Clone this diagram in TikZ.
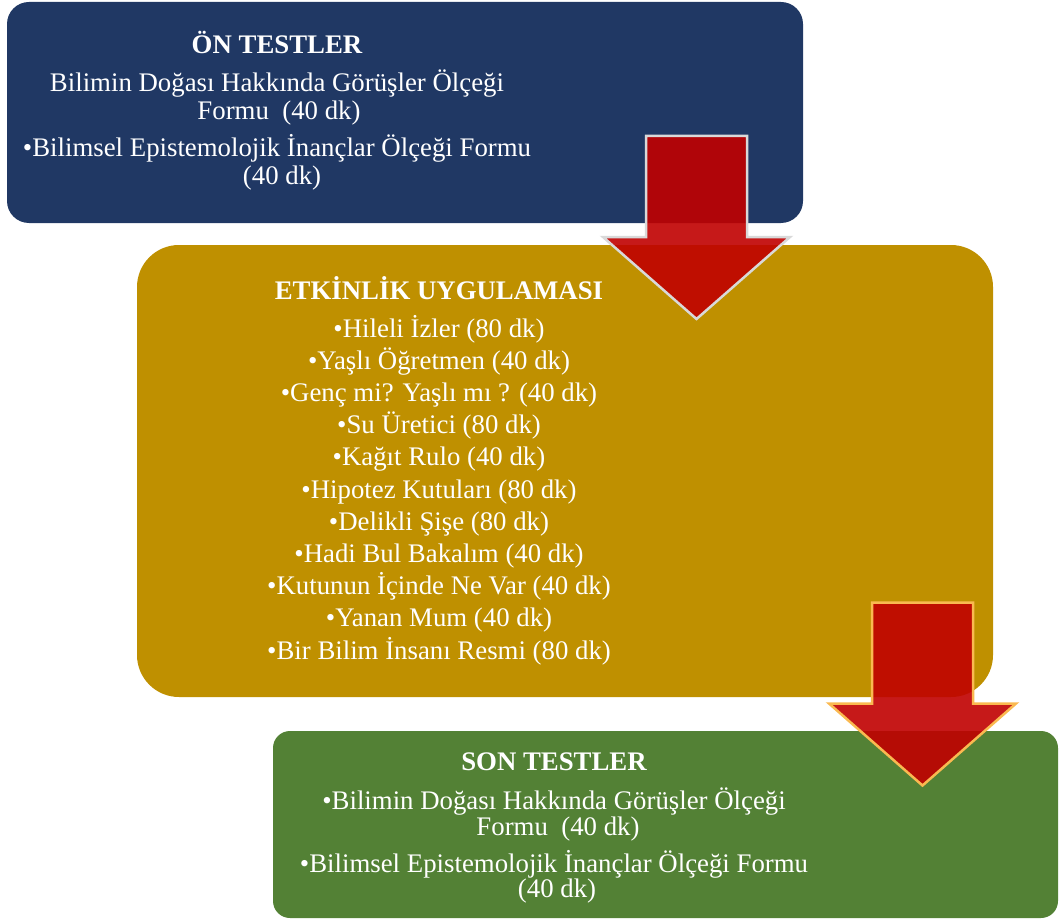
\documentclass[tikz,border=0pt]{standalone}
\usepackage{fontspec}
\setmainfont{Liberation Serif}
\usetikzlibrary{calc}

\definecolor{onblue}{RGB}{32,56,100}
\definecolor{etkgold}{RGB}{191,144,0}
\definecolor{songreen}{RGB}{83,129,53}
\definecolor{arrowred}{RGB}{192,0,0}
\definecolor{rimgrey}{RGB}{217,217,217}
\definecolor{rimorange}{RGB}{250,185,80}

\begin{document}
\begin{tikzpicture}[
  x=1pt, y=-1pt,
  panel/.style={rectangle, draw=none, inner sep=0pt},
  line/.style={anchor=base, inner sep=0pt, text=white, font=\fontsize{26.8}{30}\selectfont},
  head/.style={line, font=\fontsize{26.8}{30}\selectfont\bfseries},
  pics/downarrow/.style={code={
    \draw[fill=arrowred, fill opacity=0.9, draw=#1, line width=2.5pt, line join=miter]
      (-50.5,0) -- (50.5,0) -- (50.5,101) -- (93.5,101) -- (0,183)
      -- (-93.5,101) -- (-50.5,101) -- cycle;
  }}
]
\useasboundingbox (0,0) rectangle (1059,920);

% the three panels
\node[panel, fill=onblue, rounded corners=22pt, minimum width=796pt, minimum height=221pt] (onbox) at (405,112.5) {};
\node[panel, fill=etkgold, rounded corners=42pt, minimum width=856pt, minimum height=452pt] (etkbox) at (565,471) {};
\node[panel, fill=songreen, rounded corners=17pt, minimum width=785pt, minimum height=187pt] (sonbox) at (665.5,824.5) {};

% big arrows
\pic at (696.5,136) {downarrow=rimgrey};
\pic at (922.5,602.5) {downarrow=rimorange};

% pre tests
\node[head] (on-title) at (277,54) {ÖN TESTLER};
\node[line] (on-a1) at (277,92) {Bilimin Doğası Hakkında Görüşler Ölçeği};
\node[line] (on-a2) at (279,120) {Formu\ \ (40 dk)};
\node[line] (on-b1) at (277,157) {•Bilimsel Epistemolojik İnançlar Ölçeği Formu};
\node[line] (on-b2) at (282,185) {(40 dk)};

% activities
\node[head] (etk-title) at (439,299) {ETKİNLİK UYGULAMASI};
\foreach \act [count=\i] in {•Hileli İzler (80 dk), •Yaşlı Öğretmen (40 dk),
    •Genç mi? Yaşlı mı ? (40 dk), •Su Üretici (80 dk), •Kağıt Rulo (40 dk),
    •Hipotez Kutuları (80 dk), •Delikli Şişe (80 dk), •Hadi Bul Bakalım (40 dk),
    •Kutunun İçinde Ne Var (40 dk), •Yanan Mum (40 dk), •Bir Bilim İnsanı Resmi (80 dk)}
  \node[line] (etk-\i) at (439,{337+32.2*(\i-1)}) {\act};

% post tests
\node[head] (son-title) at (554,770) {SON TESTLER};
\node[line] (son-a1) at (554,809) {•Bilimin Doğası Hakkında Görüşler Ölçeği};
\node[line] (son-a2) at (558,835) {Formu\ \ (40 dk)};
\node[line] (son-b1) at (554,872) {•Bilimsel Epistemolojik İnançlar Ölçeği Formu};
\node[line] (son-b2) at (557,897) {(40 dk)};
\end{tikzpicture}
\end{document}
